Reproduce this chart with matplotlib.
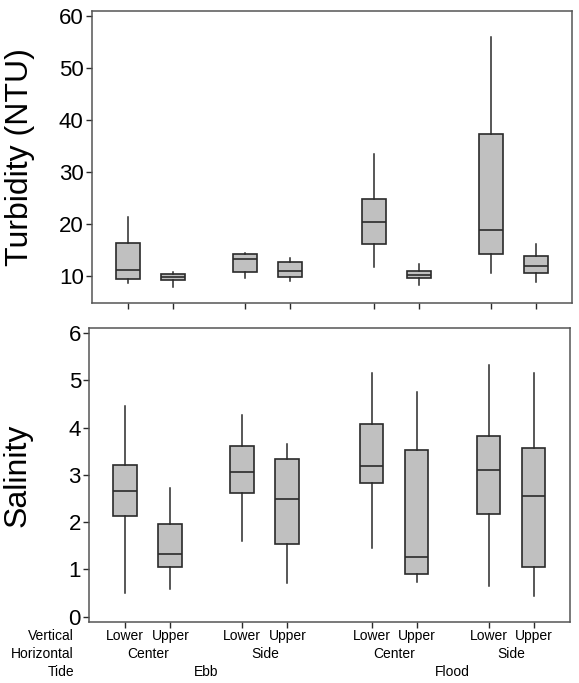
import matplotlib
matplotlib.use("Agg")
import matplotlib.pyplot as plt
from matplotlib.transforms import blended_transform_factory

plt.rcParams["font.family"] = ["Liberation Sans", "DejaVu Sans"]

# =========================
# DATA
# =========================

tide = ["Ebb", "Flood"]
horizontal = ["Center", "Side", "Center", "Side"]
vertical = ["Lower", "Upper"] * 4

# turbidity: whisker low, Q1, median, Q3, whisker high
turb_low = [8.7, 7.8, 9.55, 9.1, 11.7, 8.2, 10.6, 8.9]
turb_q1 = [9.4, 9.2, 10.8, 9.75, 16.15, 9.6, 14.2, 10.6]
turb_med = [11.15, 9.75, 13.2, 11.0, 20.4, 10.1, 18.9, 12.0]
turb_q3 = [16.3, 10.4, 14.2, 12.75, 24.9, 11.0, 37.4, 13.8]
turb_high = [21.4, 10.8, 14.4, 13.4, 33.4, 12.4, 55.9, 16.1]

# salinity
sal_low = [0.5, 0.58, 1.6, 0.7, 1.44, 0.74, 0.64, 0.43]
sal_q1 = [2.12, 1.05, 2.61, 1.54, 2.83, 0.89, 2.16, 1.04]
sal_med = [2.65, 1.32, 3.06, 2.49, 3.19, 1.27, 3.11, 2.54]
sal_q3 = [3.21, 1.95, 3.61, 3.33, 4.07, 3.53, 3.83, 3.57]
sal_high = [4.45, 2.71, 4.26, 3.66, 5.16, 4.76, 5.33, 5.15]

# =========================
# LAYOUT
# =========================

pos = [0, 1, 2.6, 3.6, 5.47, 6.47, 8.07, 9.07]
W, H = 579, 683
dark = "#2a2a2a"


def make_stats(lo, q1, med, q3, hi):
    stats = []
    for i in range(len(lo)):
        stats.append(dict(whislo=lo[i], q1=q1[i], med=med[i], q3=q3[i],
                          whishi=hi[i], fliers=[]))
    return stats


def draw(ax, stats):
    ax.bxp(stats, positions=pos, widths=0.53, showcaps=False,
           showfliers=False, patch_artist=True,
           boxprops=dict(facecolor="#c0c0c0", edgecolor=dark, linewidth=1.2),
           medianprops=dict(color=dark, linewidth=1.2),
           whiskerprops=dict(color=dark, linewidth=1.1))
    ax.set_xlim(-0.8, 9.88)
    ax.set_xticks(pos)
    ax.set_xticklabels([])
    ax.tick_params(direction="out", length=4, width=1, color=dark,
                   labelsize=16, pad=2)
    for s in ax.spines.values():
        s.set_color("#555555")
        s.set_linewidth(1.1)


fig = plt.figure(figsize=(W / 100, H / 100), dpi=100)

ax1 = fig.add_axes([92 / W, 1 - 303 / H, (572 - 92) / W, (303 - 11) / H])
draw(ax1, make_stats(turb_low, turb_q1, turb_med, turb_q3, turb_high))
ax1.set_ylim(4.8, 61)
ax1.set_yticks([10, 20, 30, 40, 50, 60])
ax1.set_ylabel("Turbidity (NTU)", fontsize=23)
ax1.yaxis.set_label_coords(-0.119, 0.5)

ax2 = fig.add_axes([89.3 / W, 1 - 621.7 / H, (570 - 89.3) / W, (621.7 - 328.3) / H])
draw(ax2, make_stats(sal_low, sal_q1, sal_med, sal_q3, sal_high))
ax2.set_ylim(-0.11, 6.1)
ax2.set_yticks([0, 1, 2, 3, 4, 5, 6])
ax2.set_ylabel("Salinity", fontsize=23)
ax2.yaxis.set_label_coords(-0.119, 0.5)

# =========================
# CATEGORY LABELS UNDER THE AXES
# =========================

tr = blended_transform_factory(ax2.transData, fig.transFigure)
rows = [1 - 635.7 / H, 1 - 654 / H, 1 - 672.3 / H]
fs = 10

for name, y in zip(["Vertical", "Horizontal", "Tide"], rows):
    fig.text(74 / W, y, name, ha="right", va="center", fontsize=fs)

for x, lab in zip(pos, vertical):
    ax2.text(x, rows[0], lab, transform=tr, ha="center", va="center", fontsize=fs)

for i, lab in enumerate(horizontal):
    x = (pos[2 * i] + pos[2 * i + 1]) / 2
    ax2.text(x, rows[1], lab, transform=tr, ha="center", va="center", fontsize=fs)

for i, lab in enumerate(tide):
    x = (pos[4 * i] + pos[4 * i + 3]) / 2
    ax2.text(x, rows[2], lab, transform=tr, ha="center", va="center", fontsize=fs)

fig.savefig("out.png", dpi=100)
